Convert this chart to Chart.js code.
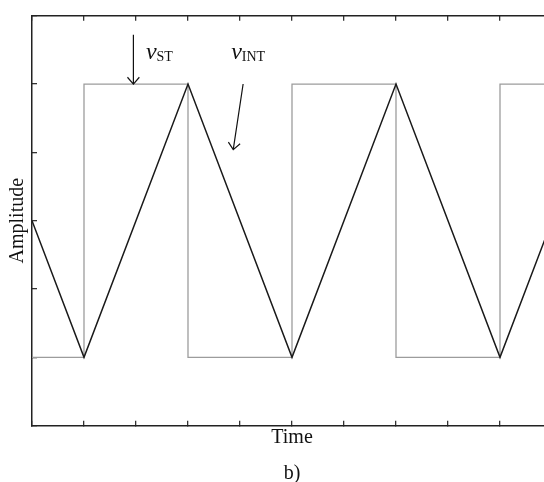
<!DOCTYPE html>
<html>
<head>
<meta charset="utf-8">
<script src="https://cdn.jsdelivr.net/npm/chart.js@4.4.0/dist/chart.umd.min.js"></script>
<style>
html,body{margin:0;padding:0;background:#fff;overflow:hidden;}
#wrap{width:544px;height:482px;overflow:hidden;position:relative;}
canvas{position:absolute;left:0;top:0;}
</style>
</head>
<body>
<div id="wrap"><canvas id="c" width="560" height="490"></canvas></div>
<script>
// integrator output (triangle), corner points
var triX = [0, 1, 3, 5, 7, 9, 10];
var triY = [3, 1, 5, 1, 5, 1, 3];
// comparator output (square wave), corner points
var sqX = [0, 1, 1, 3, 3, 5, 5, 7, 7, 9, 9, 10];
var sqY = [1, 1, 5, 5, 1, 1, 5, 5, 1, 1, 5, 5];
// tick marks (no labels in the figure)
var xTicks = [0, 1, 2, 3, 4, 5, 6, 7, 8, 9, 10];
var yTicks = [0, 1, 2, 3, 4, 5, 6];
// labels and arrows, in data units
var labels = ['ST', 'INT'];
var labelX = [2.19, 3.83];
var labelY = [5.36, 5.36];
var arrowFrom = [[1.95, 5.72], [4.06, 5.0]];
var arrowTo = [[1.95, 5.0], [3.87, 4.04]];

function pts(xs, ys){
	var out = [];
	for(var i=0;i<xs.length;++i) out.push({x: xs[i], y: ys[i]});
	return out;
}

var serif = '"Liberation Serif", "Times New Roman", serif';

function tickSetter(arr){
	return function(s){ s.ticks = arr.map(function(v){ return {value: v}; }); };
}
var gridOpts = {drawOnChartArea: false, drawTicks: true, tickLength: -5, color: '#333', lineWidth: 1.3};
var borderOpts = {display: true, color: '#222', width: 1.5};

var notes = {
	id: 'notes',
	afterDatasetsDraw: function(chart){
		var ctx = chart.ctx, sx = chart.scales.x, sy = chart.scales.y;
		ctx.save();
		ctx.strokeStyle = '#111';
		ctx.lineWidth = 1.2;
		for(var i=0;i<arrowFrom.length;++i){
			var x1 = sx.getPixelForValue(arrowFrom[i][0]), y1 = sy.getPixelForValue(arrowFrom[i][1]);
			var x2 = sx.getPixelForValue(arrowTo[i][0]), y2 = sy.getPixelForValue(arrowTo[i][1]);
			var a = Math.atan2(y2-y1, x2-x1), L = 9, w = 0.72;
			ctx.beginPath();
			ctx.moveTo(x1, y1); ctx.lineTo(x2, y2);
			ctx.moveTo(x2 - L*Math.cos(a-w), y2 - L*Math.sin(a-w));
			ctx.lineTo(x2, y2);
			ctx.lineTo(x2 - L*Math.cos(a+w), y2 - L*Math.sin(a+w));
			ctx.stroke();
		}
		ctx.fillStyle = '#111';
		ctx.textBaseline = 'alphabetic';
		for(var j=0;j<labels.length;++j){
			var px = sx.getPixelForValue(labelX[j]), py = sy.getPixelForValue(labelY[j]);
			ctx.font = 'italic 24px ' + serif;
			ctx.fillText('v', px, py);
			var w2 = ctx.measureText('v').width;
			ctx.font = '14px ' + serif;
			ctx.fillText(labels[j], px + w2, py + 2);
		}
		ctx.restore();
	}
};

new Chart(document.getElementById('c').getContext('2d'), {
	type: 'scatter',
	data: {
		datasets: [{
			label: 'vINT',
			data: pts(triX, triY),
			showLine: true,
			borderColor: '#1a1a1a',
			borderWidth: 1.5,
			pointRadius: 0,
			tension: 0
		},{
			label: 'vST',
			data: pts(sqX, sqY),
			showLine: true,
			borderColor: '#9c9c9c',
			borderWidth: 1.3,
			pointRadius: 0,
			tension: 0
		}]
	},
	options: {
		responsive: false,
		animation: false,
		events: [],
		layout: {padding: {left: 0, right: 8, top: 0, bottom: 0}},
		plugins: {
			legend: {display: false},
			tooltip: {enabled: false},
			title: {
				display: true,
				text: 'b)',
				position: 'bottom',
				fullSize: false,
				color: '#111',
				font: {family: serif, size: 20, weight: 'normal'},
				padding: {top: 0, bottom: 4.6}
			}
		},
		scales: {
			x: {
				type: 'linear', position: 'bottom', min: 0, max: 10,
				afterBuildTicks: tickSetter(xTicks),
				afterFit: function(s){ s.height = 35.7; },
				ticks: {display: false},
				grid: gridOpts,
				border: borderOpts,
				title: {display: true, text: 'Time', color: '#111',
					font: {family: serif, size: 20}, padding: {top: 0, bottom: 11.4}}
			},
			xTop: {
				type: 'linear', position: 'top', min: 0, max: 10,
				afterBuildTicks: tickSetter(xTicks),
				afterFit: function(s){ s.height = 15.7; },
				ticks: {display: false},
				grid: gridOpts,
				border: borderOpts
			},
			y: {
				type: 'linear', position: 'left', min: 0, max: 6,
				afterBuildTicks: tickSetter(yTicks),
				afterFit: function(s){ s.width = 32; },
				ticks: {display: false},
				grid: gridOpts,
				border: borderOpts,
				title: {display: true, text: 'Amplitude', color: '#111',
					font: {family: serif, size: 20}, padding: {top: 5.5, bottom: 0}}
			}
		}
	},
	plugins: [notes]
});
</script>
</body>
</html>
